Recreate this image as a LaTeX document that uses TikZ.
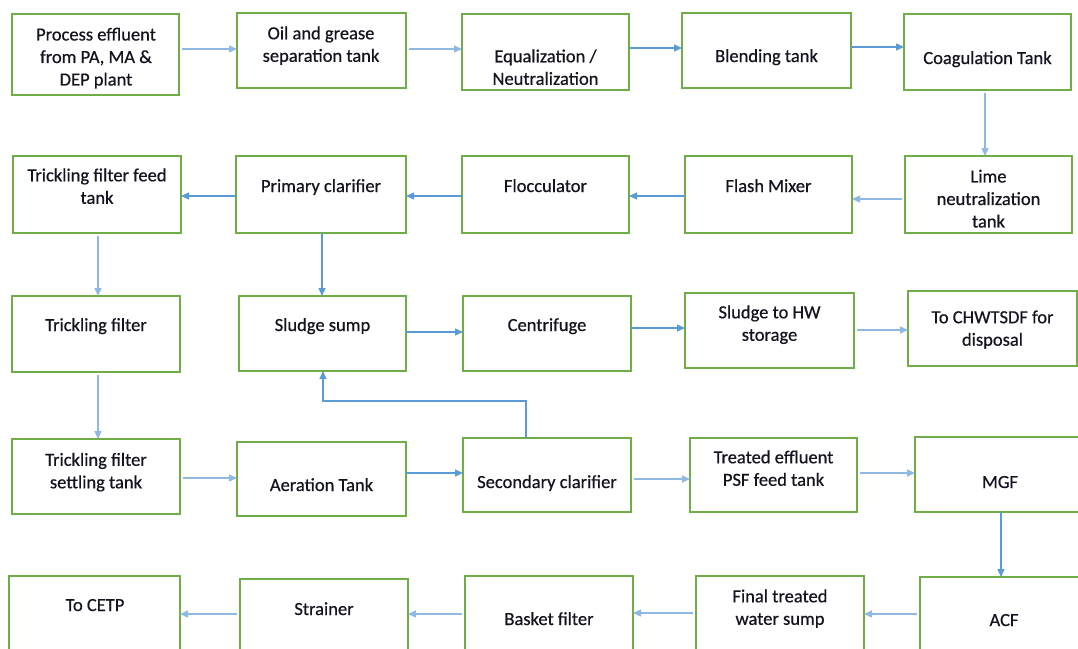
\documentclass[tikz,border=0pt]{standalone}
\usepackage{fontspec}
\setmainfont{Carlito}
\newfontfamily\txtfont{Carlito}[FakeBold=0.6]
\usetikzlibrary{arrows.meta}
\definecolor{boxgreen}{HTML}{70AD47}
\definecolor{arrblue}{HTML}{5B9BD5}
\definecolor{arrlight}{HTML}{8FB9E3}
\definecolor{txtcol}{HTML}{141420}
\tikzset{
  box/.style={draw=boxgreen, line width=1.4pt, rectangle, inner sep=0pt, outer sep=0pt, fill=white},
  txt/.style={font=\txtfont\fontsize{18.5}{22.5}\selectfont, text=txtcol, align=center, inner sep=0pt,
    execute at begin node=\strut, execute at end node=\strut, yshift=-3.5pt},
  arr/.style={draw=arrblue, line width=1.3pt, -{Triangle[length=8pt,width=7pt]}},
  arrl/.style={draw=arrlight, line width=1.3pt, -{Triangle[length=8pt,width=7pt]}, shorten <=3pt}
}
\newcommand\bx[5]{\node[box, minimum width={(#4-#2)*1pt}, minimum height={(#5-#3)*1pt}] (#1) at ({(#2+#4)/2},{(#3+#5)/2}) {};}
\begin{document}
\begin{tikzpicture}[x=1pt,y=-1pt]
\useasboundingbox (0,0) rectangle (1078,648);
\fill[white] (0,0) rectangle (1078,648);
\clip (0,0) rectangle (1078,648);
% row 1
\bx{b1}{12}{14}{179}{95}
\bx{b2}{237}{13}{406}{88}
\bx{b3}{462}{14}{629}{90}
\bx{b4}{682}{13}{851}{88}
\bx{b5}{904}{14}{1071}{90}
% row 2
\bx{b6}{905}{156}{1072}{233}
\bx{b7}{685}{156}{852}{233}
\bx{b8}{462}{156}{629}{233}
\bx{b9}{236}{156}{406}{233}
\bx{b10}{13}{156}{181}{233}
% row 3
\bx{b11}{12}{296}{180}{372}
\bx{b12}{239}{296}{406}{371}
\bx{b13}{463}{296}{631}{371}
\bx{b14}{685}{293}{854}{368}
\bx{b15}{908}{291}{1077}{366}
% row 4
\bx{b16}{12}{439}{180}{514}
\bx{b17}{237}{442}{406}{516}
\bx{b18}{463}{438}{631}{512}
\bx{b19}{690}{438}{857}{512}
\bx{b20}{915}{437}{1095}{512}
% row 5
\bx{b21}{9}{576}{180}{665}
\bx{b22}{240}{579}{408}{665}
\bx{b23}{465}{576}{633}{665}
\bx{b24}{696}{576}{864}{665}
\bx{b25}{920}{577}{1095}{665}
% texts
\node[txt] (t1) at (96,56.5) {Process effluent\\from PA, MA \&\\DEP plant};
\node[txt] (t2) at (321,44) {Oil and grease\\separation tank};
\node[txt] (t3) at (545.5,67) {Equalization /\\Neutralization};
\node[txt] (t4) at (766.5,54) {Blending tank};
\node[txt] (t5) at (987.5,56) {Coagulation Tank};
\node[txt] (t6) at (988.5,198.5) {Lime\\neutralization\\tank};
\node[txt] (t7) at (768.5,184) {Flash Mixer};
\node[txt] (t8) at (545.5,184) {Flocculator};
\node[txt] (t9) at (321,184) {Primary clarifier};
\node[txt] (t10) at (97,186) {Trickling filter feed\\tank};
\node[txt] (t11) at (96,323) {Trickling filter};
\node[txt] (t12) at (322.5,323) {Sludge sump};
\node[txt] (t13) at (547,323) {Centrifuge};
\node[txt] (t14) at (769.5,323) {Sludge to HW\\storage};
\node[txt] (t15) at (992.5,328) {To CHWTSDF for\\disposal};
\node[txt] (t16) at (96,470.5) {Trickling filter\\settling tank};
\node[txt] (t17) at (321.5,483) {Aeration Tank};
\node[txt] (t18) at (547,480) {Secondary clarifier};
\node[txt] (t19) at (773.5,468) {Treated effluent\\PSF feed tank};
\node[txt] (t20) at (1000,480) {MGF};
\node[txt] (t21) at (95,603) {To CETP};
\node[txt] (t22) at (324,607) {Strainer};
\node[txt] (t23) at (549,617) {Basket filter};
\node[txt] (t24) at (780,607) {Final treated\\water sump};
\node[txt] (t25) at (1004,618) {ACF};
% row 1 arrows
\draw[arrl] (b1.east |- 0,49) -- (b2.west |- 0,49);
\draw[arrl] (b2.east |- 0,49) -- (b3.west |- 0,49);
\draw[arr] (b3.east |- 0,48) -- (b4.west |- 0,48);
\draw[arr] (b4.east |- 0,47) -- (b5.west |- 0,47);
\draw[arrl] (985,0 |- b5.south) -- (985,0 |- b6.north);
% row 2 arrows
\draw[arrl] (b6.west |- 0,199) -- (b7.east |- 0,199);
\draw[arr] (b7.west |- 0,196) -- (b8.east |- 0,196);
\draw[arr] (b8.west |- 0,196) -- (b9.east |- 0,196);
\draw[arr] (b9.west |- 0,196) -- (b10.east |- 0,196);
\draw[arrl] (98,0 |- b10.south) -- (98,0 |- b11.north);
\draw[arr] (322,0 |- b9.south) -- (322,0 |- b12.north);
% row 3 arrows
\draw[arr] (b12.east |- 0,332) -- (b13.west |- 0,332);
\draw[arr] (b13.east |- 0,328) -- (b14.west |- 0,328);
\draw[arrl] (b14.east |- 0,330) -- (b15.west |- 0,330);
\draw[arrl] (98,0 |- b11.south) -- (98,0 |- b16.north);
\draw[arr] (526,0 |- b18.north) -- (526,401) -- (323,401) -- (323,0 |- b12.south);
% row 4 arrows
\draw[arrl] (b16.east |- 0,478) -- (b17.west |- 0,478);
\draw[arr] (b17.east |- 0,473) -- (b18.west |- 0,473);
\draw[arrl] (b18.east |- 0,479) -- (b19.west |- 0,479);
\draw[arrl] (b19.east |- 0,473) -- (b20.west |- 0,473);
\draw[arr] (1001,0 |- b20.south) -- (1001,0 |- b25.north);
% row 5 arrows
\draw[arrl] (b25.west |- 0,614) -- (b24.east |- 0,614);
\draw[arrl] (b24.west |- 0,613) -- (b23.east |- 0,613);
\draw[arrl] (b23.west |- 0,614) -- (b22.east |- 0,614);
\draw[arrl] (b22.west |- 0,614) -- (b21.east |- 0,614);
\end{tikzpicture}
\end{document}
